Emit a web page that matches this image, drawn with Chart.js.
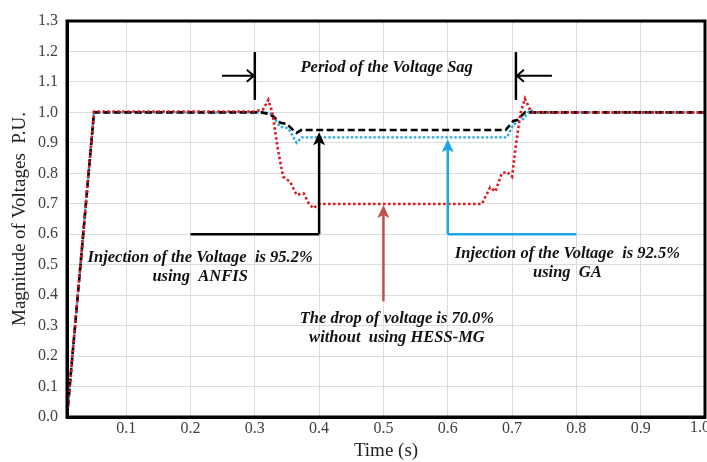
<!DOCTYPE html>
<html>
<head>
<meta charset="utf-8">
<script src="https://cdn.jsdelivr.net/npm/chart.js@4.4.0/dist/chart.umd.min.js"></script>
<style>
  html, body { margin: 0; padding: 0; background: #fff; }
</style>
</head>
<body>
<canvas id="chart" width="707" height="462"></canvas>
<script>
// tick values on the axes
const xTickValues = [0.1, 0.2, 0.3, 0.4, 0.5, 0.6, 0.7, 0.8, 0.9, 1.0];
const yTickValues = [0, 0.1, 0.2, 0.3, 0.4, 0.5, 0.6, 0.7, 0.8, 0.9, 1.0, 1.1, 1.2, 1.3];

// ANFIS compensated voltage (black dashed)
const anfisTime = [0.008, 0.05, 0.31, 0.322, 0.329, 0.34, 0.35, 0.358, 0.365, 0.372, 0.69, 0.702, 0.708, 0.72, 1.0];
const anfisVolt = [0, 1.0, 1.0, 0.995, 0.986, 0.966, 0.962, 0.945, 0.933, 0.942, 0.942, 0.972, 0.975, 1.0, 1.0];

// GA compensated voltage (blue dotted)
const gaTime = [0.008, 0.05, 0.31, 0.324, 0.332, 0.339, 0.352, 0.365, 0.373, 0.692, 0.702, 0.718, 0.728, 0.736, 1.0];
const gaVolt = [0, 1.0, 1.0, 0.997, 0.975, 0.953, 0.948, 0.9, 0.918, 0.918, 0.959, 0.98, 1.008, 1.0, 1.0];

// voltage without HESS-MG (red dotted)
const hessTime = [0.008, 0.05, 0.3, 0.313, 0.321, 0.327, 0.336, 0.344, 0.355, 0.365, 0.376, 0.384, 0.391, 0.399,
  0.653, 0.666, 0.674, 0.684, 0.692, 0.7, 0.705, 0.713, 0.72, 0.728, 0.733, 1.0];
const hessVolt = [0, 1.003, 1.003, 1.01, 1.041, 1.002, 0.877, 0.789, 0.772, 0.729, 0.734, 0.701, 0.685, 0.699,
  0.699, 0.754, 0.74, 0.8, 0.805, 0.789, 0.877, 0.997, 1.045, 1.008, 1.0, 1.0];

const toPoints = (xs, ys) => xs.map((x, i) => ({ x: x, y: ys[i] }));

const serif = "'Liberation Serif', 'Times New Roman', serif";
const tickColor = '#404040';

// lines, arrows and notes drawn over the plot (in data units)
const notes = [
  { text: ['Period of the Voltage Sag'], x: 0.505, y: 1.148 },
  { text: ['Injection of the Voltage  is 95.2%', 'using  ANFIS'], x: 0.215, y: 0.522 },
  { text: ['Injection of the Voltage  is 92.5%', 'using  GA'], x: 0.786, y: 0.535 },
  { text: ['The drop of voltage is 70.0%', 'without  using HESS-MG'], x: 0.521, y: 0.322 }
];

const annotate = {
  id: 'annotate',
  afterDraw(chart) {
    const { ctx, chartArea: a, scales: { x, y } } = chart;
    const px = v => x.getPixelForValue(v);
    const py = v => y.getPixelForValue(v);

    // frame
    ctx.save();
    ctx.strokeStyle = '#000';
    ctx.lineWidth = 3;
    ctx.strokeRect(a.left, a.top, a.right - a.left, a.bottom - a.top);

    const line = (x1, y1, x2, y2, color, w) => {
      ctx.beginPath();
      ctx.strokeStyle = color;
      ctx.lineWidth = w;
      ctx.moveTo(px(x1), py(y1));
      ctx.lineTo(px(x2), py(y2));
      ctx.stroke();
    };
    const upArrow = (xv, y1, y2, color) => {
      const X = px(xv), Y1 = py(y1), Y2 = py(y2);
      ctx.beginPath();
      ctx.strokeStyle = color;
      ctx.lineWidth = 2.5;
      ctx.moveTo(X, Y1);
      ctx.lineTo(X, Y2 + 8);
      ctx.stroke();
      ctx.beginPath();
      ctx.fillStyle = color;
      ctx.moveTo(X, Y2);
      ctx.lineTo(X - 6, Y2 + 13);
      ctx.lineTo(X, Y2 + 10);
      ctx.lineTo(X + 6, Y2 + 13);
      ctx.closePath();
      ctx.fill();
    };
    const sideArrow = (x1, x2, yv) => {
      const X1 = px(x1), X2 = px(x2), Y = py(yv);
      const d = X2 > X1 ? 1 : -1;
      ctx.beginPath();
      ctx.strokeStyle = '#000';
      ctx.lineWidth = 2;
      ctx.moveTo(X1, Y);
      ctx.lineTo(X2 - d, Y);
      ctx.moveTo(X2 - d * 8, Y - 6);
      ctx.lineTo(X2 - d, Y);
      ctx.lineTo(X2 - d * 8, Y + 6);
      ctx.stroke();
    };

    // sag period markers
    line(0.3, 1.198, 0.3, 1.041, '#000', 2.5);
    line(0.706, 1.198, 0.706, 1.041, '#000', 2.5);
    sideArrow(0.249, 0.3, 1.12);
    sideArrow(0.762, 0.706, 1.12);

    // ANFIS pointer
    line(0.2, 0.6, 0.4, 0.6, '#000', 2.5);
    upArrow(0.4, 0.6, 0.935, '#000');
    // GA pointer
    line(0.6, 0.6, 0.8, 0.6, '#1aa7e3', 2.5);
    upArrow(0.6, 0.6, 0.912, '#1aa7e3');
    // drop pointer
    upArrow(0.5, 0.38, 0.696, '#c0504d');

    // notes
    ctx.fillStyle = '#111';
    ctx.font = 'italic bold 16.5px ' + serif;
    ctx.textAlign = 'center';
    ctx.textBaseline = 'middle';
    notes.forEach(n => {
      n.text.forEach((t, i) => ctx.fillText(t, px(n.x), py(n.y) + i * 19));
    });

    // last x label sits on the right edge and is cut off
    ctx.fillStyle = tickColor;
    ctx.font = '16px ' + serif;
    ctx.fillText('1.0', px(1.0) - 5, a.bottom + 11);
    ctx.restore();
  }
};

new Chart(document.getElementById('chart'), {
  type: 'line',
  data: {
    datasets: [
      {
        label: 'Without HESS-MG',
        data: toPoints(hessTime, hessVolt),
        borderColor: '#e0161c',
        borderWidth: 2.6,
        borderDash: [2.5, 2.5],
        pointRadius: 0,
        tension: 0,
        order: 0
      },
      {
        label: 'ANFIS',
        data: toPoints(anfisTime, anfisVolt),
        borderColor: '#000',
        borderWidth: 2.6,
        borderDash: [7, 3.5],
        pointRadius: 0,
        tension: 0,
        order: 1
      },
      {
        label: 'GA',
        data: toPoints(gaTime, gaVolt),
        borderColor: '#29a9e1',
        borderWidth: 2.4,
        borderDash: [2.5, 2],
        pointRadius: 0,
        tension: 0,
        order: 2
      }
    ]
  },
  options: {
    responsive: false,
    animation: false,
    layout: { padding: { top: 21, right: 2, left: 0, bottom: 0 } },
    plugins: { legend: { display: false }, tooltip: { enabled: false } },
    scales: {
      x: {
        type: 'linear',
        min: 0.008,
        max: 1.0,
        afterBuildTicks: s => { s.ticks = xTickValues.map(v => ({ value: v })); },
        afterFit: s => { s.height = 45; },
        grid: { color: '#dcdcdc', drawTicks: false },
        border: { color: '#000', width: 3 },
        ticks: {
          padding: 2,
          color: tickColor,
          font: { family: serif, size: 16 },
          callback: v => (v >= 0.999 ? '' : v.toFixed(1))
        },
        title: {
          display: true,
          text: 'Time (s)',
          color: '#222',
          font: { family: serif, size: 19 },
          padding: { top: 0, bottom: 0 }
        }
      },
      y: {
        min: 0,
        max: 1.3,
        afterBuildTicks: s => { s.ticks = yTickValues.map(v => ({ value: v })); },
        afterFit: s => { s.width = 67; },
        grid: { color: '#dcdcdc', drawTicks: false },
        border: { color: '#000', width: 3 },
        ticks: {
          padding: 9,
          color: tickColor,
          font: { family: serif, size: 16 },
          callback: v => v.toFixed(1)
        },
        title: {
          display: true,
          text: 'Magnitude of Voltages  P.U.',
          color: '#222',
          font: { family: serif, size: 19 },
          padding: { top: 9, bottom: 0 }
        }
      }
    }
  },
  plugins: [annotate]
});
</script>
</body>
</html>
